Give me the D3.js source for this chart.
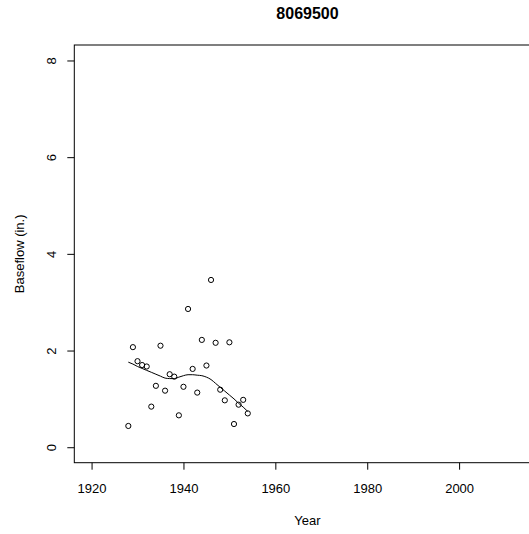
<!DOCTYPE html>
<html><head><meta charset="utf-8">
<script src="https://cdn.jsdelivr.net/npm/d3@7"></script>
<style>body{margin:0;background:#fff;} svg{display:block;}</style>
</head><body>
<script>
const title = "8069500";
const years = [1928,1929,1930,1931,1932,1933,1934,1935,1936,1937,1938,1939,1940,1941,1942,1943,1944,1945,1946,1947,1948,1949,1950,1951,1952,1953,1954];
const baseflow = [0.44,2.07,1.78,1.70,1.67,0.84,1.27,2.10,1.17,1.51,1.46,0.66,1.25,2.86,1.62,1.13,2.22,1.69,3.46,2.16,1.19,0.97,2.17,0.48,0.88,0.98,0.70];
const smoothYears = years;
const smoothVals = [1.76,1.72,1.67,1.63,1.59,1.55,1.51,1.47,1.43,1.42,1.42,1.45,1.48,1.50,1.50,1.49,1.48,1.45,1.40,1.32,1.24,1.16,1.08,1.00,0.91,0.83,0.74];
const xTicks = [1920,1940,1960,1980,2000];
const yTicks = [0,2,4,6,8];
const xLim = [1920, 2014];
const yLim = [0, 8];

const W = 529, H = 534;
const mL = 74.3, mT = 45, mB = 462.7, mR = 540.7;
const ext = v => { const d = (v[1]-v[0])*0.04; return [v[0]-d, v[1]+d]; };

const svg = d3.select("body").append("svg").attr("width", W).attr("height", H);
const x = d3.scaleLinear().domain(ext(xLim)).range([mL, mR]);
const y = d3.scaleLinear().domain(ext(yLim)).range([mB, mT]);
const font = "Liberation Sans, Arial, Helvetica, sans-serif";

svg.append("rect").attr("x", mL).attr("y", mT).attr("width", mR-mL).attr("height", mB-mT)
  .attr("fill","none").attr("stroke","#000").attr("stroke-width",1);

const xAxis = svg.append("g").attr("transform", `translate(0,${mB})`)
  .call(d3.axisBottom(x).tickValues(xTicks).tickSize(7).tickPadding(14).tickFormat(d3.format("d")));
xAxis.select(".domain").remove();
xAxis.selectAll("text").attr("font-family", font).attr("font-size", 13).attr("fill","#000");

const yAxis = svg.append("g").attr("transform", `translate(${mL},0)`)
  .call(d3.axisLeft(y).tickValues(yTicks).tickSize(7).tickFormat(d3.format("d")));
yAxis.select(".domain").remove();
yAxis.selectAll("text").remove();
yAxis.selectAll(".tick").append("text")
  .attr("transform", "translate(-23,0) rotate(-90)")
  .attr("text-anchor","middle").attr("dy","0.35em")
  .attr("font-family", font).attr("font-size", 13).attr("fill","#000")
  .text(d => d);

svg.append("text").attr("x", (mL+mR)/2).attr("y", 19).attr("text-anchor","middle")
  .attr("font-family", font).attr("font-size", 16).attr("font-weight","bold").text(title);
svg.append("text").attr("x", (mL+mR)/2).attr("y", 525).attr("text-anchor","middle")
  .attr("font-family", font).attr("font-size", 13).text("Year");
svg.append("text").attr("transform", `translate(24,${(mT+mB)/2}) rotate(-90)`).attr("text-anchor","middle")
  .attr("font-family", font).attr("font-size", 13).text("Baseflow (in.)");

const line = d3.line().x((d,i)=>x(smoothYears[i])).y(d=>y(d)).curve(d3.curveMonotoneX);
svg.append("path").attr("d", line(smoothVals)).attr("fill","none").attr("stroke","#000").attr("stroke-width",1);

svg.append("g").selectAll("circle").data(baseflow).join("circle")
  .attr("cx",(d,i)=>x(years[i])).attr("cy",d=>y(d)).attr("r",2.6)
  .attr("fill","none").attr("stroke","#000").attr("stroke-width",1);
</script>
</body></html>
